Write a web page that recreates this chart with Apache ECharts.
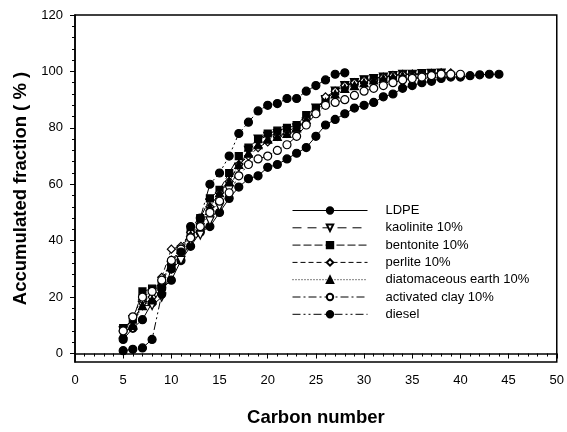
<!DOCTYPE html>
<html>
<head>
<meta charset="utf-8">
<script src="https://cdn.jsdelivr.net/npm/echarts@6/dist/echarts.min.js"></script>
<style>
  html, body { margin: 0; padding: 0; background: #fff; }
  #main { width: 567px; height: 432px; }
</style>
</head>
<body>
<div id="main"></div>
<script>
// carbon numbers
var cLdpe = [5,6,7,8,9,10,11,12,13,14,15,16,17,18,19,20,21,22,23,24,25,26,27,28,29,30,31,32,33,34,35,36,37,38,39,40,41,42,43,44];
var cMix = [5,6,7,8,9,10,11,12,13,14,15,16,17,18,19,20,21,22,23,24,25,26,27,28,29,30,31,32,33,34,35,36,37,38];
var cPerlite = [5,6,7,8,9,10,11,12,13,14,15,16,17,18,19,20,21,22,23,24,25,26,27,28,29,30,31,32,33,34,35,36,37,38,39];
var cClay = [5,6,7,8,9,10,11,12,13,14,15,16,17,18,19,20,21,22,23,24,25,26,27,28,29,30,31,32,33,34,35,36,37,38,39,40];
var cDiesel = [5,6,7,8,9,10,11,12,13,14,15,16,17,18,19,20,21,22,23,24,25,26,27,28];

// accumulated fraction (%)
var ldpe = [5,9,12,18,23,26,33,38,43,45,50,55,59,62,63,66,67,69,71,73,77,81,83,85,87,88,89,91,92,94,95,96,96.5,97.5,98,98,98.5,98.8,99,99];
var kaolinite = [8,12,17,17,20,30,33,40,42,47,52,58,66,72,76,77,78,79,80,82,87,90,93,95,96,97,97.5,98,98.5,99,99,99.2,99.3,99.4];
var bentonite = [9,12,22,23,25,32,37,43,48,55,58,64,70,73,76,78,79,80,81,84.5,87,90,93,95,96,97,97.5,98,98.5,99,99,99.2,99.3,99.4];
var perlite = [8,9,19,20,27,37,38,43,46,52,57,61,67,70,73,75,77,78,79,83,86,91,93,95,96,96.8,96.8,98,98.6,99,99,99,99.2,99.4,99.5];
var diatom = [7,10,17,19,25,33,37,42,46,52,57,61,67,71,74,76,77,78,80,83,86,89,92,94,95,96,97,97.5,98,98.5,99,99,99.2,99.4];
var actClay = [8,13,20,22,26,33,37,41,45,50,54,57,63,67,69,70,72,74,77,81,85,88,89,90,91.5,93,94,95,96,97,97.5,98,98.5,99,99,99];
var diesel = [1,1.5,2,5,21,30,36,45,48,60,64,70,78,82,86,88,88.6,90.4,90.4,93,95,97,99,99.5];

var yMajor = [0,20,40,60,80,100,120];
var yMinor = [4,8,12,16,24,28,32,36,44,48,52,56,64,68,72,76,84,88,92,96,104,108,112,116];

function pts(xs, ys) {
  return xs.map(function (x, i) { return [x, ys[i]]; });
}

function mk(name, xs, ys, symbol, filled, dash, rotate) {
  return {
    name: name,
    type: 'line',
    data: pts(xs, ys),
    symbol: symbol,
    symbolSize: symbol === 'rect' ? 7 : 8,
    symbolRotate: rotate || 0,
    showAllSymbol: true,
    itemStyle: { color: filled ? '#000' : '#fff', borderColor: '#000', borderWidth: 1.2 },
    lineStyle: { color: '#000', width: 1, type: dash },
    emphasis: { disabled: true },
    animation: false
  };
}

var chart = echarts.init(document.getElementById('main'));
var option = {
  backgroundColor: '#fff',
  animation: false,
  textStyle: { fontFamily: 'Liberation Sans' },
  grid: { left: 75, right: 7, top: 15, bottom: 70, show: true, borderColor: '#000', borderWidth: 1.5 },
  legend: {
    orient: 'vertical',
    left: 287,
    top: 199,
    itemWidth: 75,
    itemHeight: 8,
    itemGap: 4.3,
    lineStyle: { width: 1 },
    textStyle: { fontSize: 13, color: '#000', fontFamily: 'Liberation Sans', padding: [0, 0, 0, 13] },
    data: ['LDPE', 'kaolinite 10%', 'bentonite 10%', 'perlite 10%', 'diatomaceous earth 10%', 'activated clay 10%', 'diesel']
  },
  xAxis: {
    type: 'value',
    min: 0,
    max: 50,
    interval: 5,
    name: 'Carbon number',
    nameLocation: 'middle',
    nameGap: 46,
    nameTextStyle: { fontSize: 18.5, fontWeight: 'bold', color: '#000' },
    axisLine: { lineStyle: { color: '#000', width: 1.5 } },
    axisTick: { length: 5, lineStyle: { color: '#000' } },
    minorTick: { show: true, splitNumber: 5, length: 3, lineStyle: { color: '#000' } },
    axisLabel: { fontSize: 13, color: '#000', margin: 12 },
    splitLine: { show: false }
  },
  yAxis: [{
    type: 'value',
    min: -3,
    max: 120,
    name: 'Accumulated fraction ( % )',
    nameLocation: 'middle',
    nameGap: 42,
    nameTextStyle: { fontSize: 18.5, fontWeight: 'bold', color: '#000' },
    axisLine: { lineStyle: { color: '#000', width: 1.5 } },
    axisTick: { length: 5, customValues: yMajor, lineStyle: { color: '#000' } },
    axisLabel: { fontSize: 13, color: '#000', margin: 12, customValues: yMajor },
    splitLine: { show: false }
  }, {
    type: 'value',
    min: -3,
    max: 120,
    position: 'left',
    axisLine: { show: false },
    axisTick: { length: 3, customValues: yMinor, lineStyle: { color: '#000' } },
    axisLabel: { show: false },
    splitLine: { show: false }
  }],
  series: [
    mk('LDPE', cLdpe, ldpe, 'circle', true, 'solid'),
    mk('kaolinite 10%', cMix, kaolinite, 'triangle', false, [9, 6], 180),
    mk('bentonite 10%', cMix, bentonite, 'rect', true, [8, 3]),
    mk('perlite 10%', cPerlite, perlite, 'diamond', false, [5, 3]),
    mk('diatomaceous earth 10%', cMix, diatom, 'triangle', true, [1, 2]),
    mk('activated clay 10%', cClay, actClay, 'circle', false, [8, 3, 2, 3]),
    mk('diesel', cDiesel, diesel, 'circle', true, [8, 3, 2, 3, 2, 3])
  ]
};
chart.setOption(option);
</script>
</body>
</html>
